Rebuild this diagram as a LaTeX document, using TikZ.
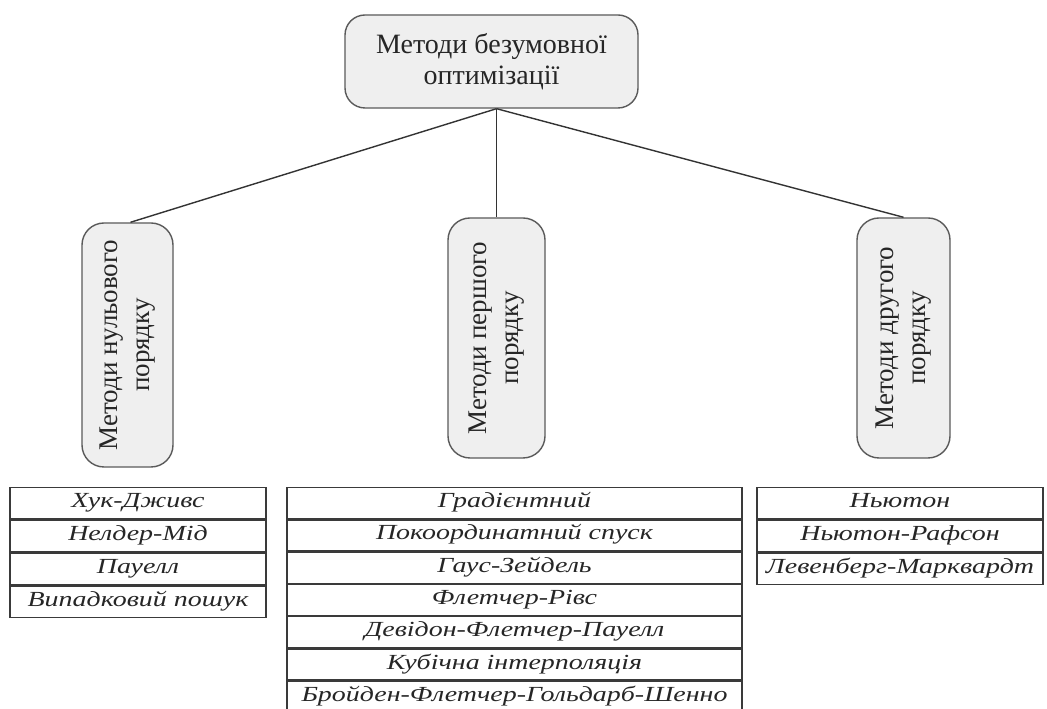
\documentclass[tikz,border=0pt]{standalone}
\usepackage{fontspec}
\setmainfont{Liberation Serif}
\newfontfamily\tabfont{Liberation Serif}[FakeStretch=1.3]
\definecolor{boxfill}{HTML}{EFEFEF}
\definecolor{boxline}{HTML}{5A5A5A}
\definecolor{tabline}{HTML}{3A3A3A}
\tikzset{
  topbox/.style={draw=boxline, fill=boxfill, line width=1.4pt, rounded corners=20pt,
    minimum width=293pt, minimum height=93pt, inner sep=0pt, align=center,
    text=black!85, font=\fontsize{28}{31}\selectfont},
  vbox/.style={draw=boxline, fill=boxfill, line width=1.4pt, rounded corners=22pt,
    rotate=90, inner sep=0pt, align=center, text=black!85,
    font=\fontsize{27}{32}\selectfont},
  cell/.style={draw=tabline, line width=1.3pt, inner sep=0pt, minimum height=31.5pt,
    text height=15pt, text depth=6pt, text=black!85,
    anchor=north, font=\tabfont\itshape\fontsize{21.5}{24}\selectfont},
  conn/.style={draw=black!80, line width=1.4pt}
}
\begin{document}
\begin{tikzpicture}[x=1pt,y=1pt]
\useasboundingbox (0,0) rectangle (1047,709);
\fill[white] (0,0) rectangle (1047,709);
% top node
\node[topbox] (top) at (491.5,647.5) {Методи безумовної\\оптимізації};
% vertical boxes
\node[vbox, minimum width=244pt, minimum height=91pt] (lb) at (127.5,364) {Методи нульового\\порядку};
\node[vbox, minimum width=240pt, minimum height=97pt] (mb) at (496.5,371) {Методи першого\\порядку};
\node[vbox, minimum width=240pt, minimum height=93pt] (rb) at (903.5,371) {Методи другого\\порядку};
% connectors
\coordinate (apex) at (top.south -| mb.east);
\draw[conn] (apex) -- ([xshift=3pt]lb.east);
\draw[conn] (apex) -- (mb.east);
\draw[conn] (apex) -- (rb.east);
% left table
\begin{scope}[every node/.style={cell, minimum width=256pt}]
\node (l1) at (138,222) {Хук-Дживс};
\node (l2) at (l1.south) {Нелдер-Мід};
\node (l3) at (l2.south) {Пауелл};
\node (l4) at (l3.south) {Випадковий пошук};
\end{scope}
% middle table
\begin{scope}[every node/.style={cell, minimum width=455pt, minimum height=31pt}]
\node (m1) at (514.5,222) {Градієнтний};
\node (m2) at (m1.south) {Покоординатний спуск};
\node (m3) at (m2.south) {Гаус-Зейдель};
\node (m4) at (m3.south) {Флетчер-Рівс};
\node (m5) at (m4.south) {Девідон-Флетчер-Пауелл};
\node (m6) at (m5.south) {Кубічна інтерполяція};
\node (m7) at (m6.south) {Бройден-Флетчер-Гольдарб-Шенно};
\end{scope}
% right table
\begin{scope}[every node/.style={cell, minimum width=286pt}]
\node (r1) at (900,222) {Ньютон};
\node (r2) at (r1.south) {Ньютон-Рафсон};
\node (r3) at (r2.south) {Левенберг-Марквардт};
\end{scope}
\end{tikzpicture}
\end{document}
